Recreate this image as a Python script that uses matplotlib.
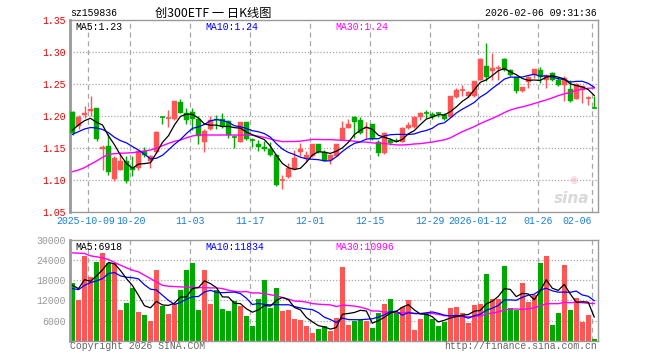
import numpy as np
import pandas as pd
import matplotlib
matplotlib.use("Agg")
import matplotlib.pyplot as plt
from matplotlib.patches import Rectangle

# ---------------- data ----------------
opens = [1.207, 1.184, 1.202, 1.208, 1.2125, 1.148, 1.153, 1.101, 1.116, 1.129,
         1.121, 1.118, 1.146, 1.129, 1.143, 1.1985, 1.196, 1.195, 1.2225, 1.204,
         1.207, 1.195, 1.160, 1.179, 1.196, 1.195, 1.192, 1.1675, 1.160, 1.190,
         1.163, 1.156, 1.152, 1.148, 1.139, 1.099, 1.104, 1.117, 1.144, 1.134,
         1.1375, 1.156, 1.144, 1.131, 1.1375, 1.1625, 1.182, 1.199, 1.194, 1.181,
         1.1875, 1.160, 1.142, 1.1625, 1.1615, 1.160, 1.182, 1.183, 1.199, 1.2045,
         1.203, 1.2055, 1.201, 1.199, 1.229, 1.241, 1.232, 1.231, 1.257, 1.2775,
         1.271, 1.274, 1.2895, 1.2725, 1.2605, 1.2395, 1.253, 1.2645, 1.2725, 1.257,
         1.267, 1.257, 1.249, 1.2425, 1.227, 1.241, 1.2275, 1.2135]
highs = [1.208, 1.201, 1.216, 1.231, 1.213, 1.155, 1.172, 1.137, 1.144, 1.137,
         1.137, 1.147, 1.152, 1.139, 1.176, 1.200, 1.209, 1.223, 1.227, 1.2125,
         1.213, 1.200, 1.180, 1.200, 1.201, 1.204, 1.193, 1.170, 1.191, 1.191,
         1.165, 1.162, 1.161, 1.160, 1.140, 1.108, 1.127, 1.147, 1.158, 1.145,
         1.157, 1.157, 1.147, 1.140, 1.157, 1.192, 1.196, 1.200, 1.199, 1.190,
         1.188, 1.163, 1.175, 1.166, 1.166, 1.183, 1.190, 1.200, 1.206, 1.209,
         1.206, 1.207, 1.204, 1.232, 1.243, 1.249, 1.239, 1.255, 1.291, 1.314,
         1.298, 1.280, 1.291, 1.273, 1.261, 1.2455, 1.263, 1.2735, 1.277, 1.264,
         1.268, 1.261, 1.262, 1.257, 1.252, 1.2475, 1.2315, 1.2315]
lows = [1.170, 1.180, 1.197, 1.200, 1.161, 1.116, 1.108, 1.099, 1.115, 1.096,
        1.107, 1.116, 1.136, 1.118, 1.142, 1.188, 1.183, 1.194, 1.204, 1.188,
        1.178, 1.157, 1.144, 1.178, 1.179, 1.182, 1.166, 1.150, 1.159, 1.162,
        1.152, 1.146, 1.146, 1.137, 1.091, 1.086, 1.103, 1.116, 1.1375, 1.128,
        1.136, 1.142, 1.129, 1.125, 1.137, 1.162, 1.181, 1.166, 1.172, 1.165,
        1.163, 1.1375, 1.141, 1.154, 1.159, 1.159, 1.180, 1.182, 1.193, 1.197,
        1.195, 1.199, 1.194, 1.198, 1.228, 1.231, 1.230, 1.230, 1.256, 1.255,
        1.256, 1.256, 1.271, 1.262, 1.236, 1.238, 1.243, 1.259, 1.252, 1.2435,
        1.255, 1.247, 1.223, 1.222, 1.226, 1.220, 1.2165, 1.2125]
closes = [1.173, 1.199, 1.204, 1.211, 1.164, 1.152, 1.113, 1.135, 1.130, 1.099,
          1.115, 1.145, 1.139, 1.137, 1.175, 1.198, 1.197, 1.223, 1.204, 1.193,
          1.196, 1.168, 1.177, 1.194, 1.194, 1.184, 1.170, 1.167, 1.190, 1.164,
          1.1625, 1.151, 1.148, 1.139, 1.092, 1.0995, 1.118, 1.134, 1.148, 1.139,
          1.156, 1.144, 1.130, 1.139, 1.156, 1.182, 1.1875, 1.190, 1.173, 1.1815,
          1.1635, 1.142, 1.174, 1.158, 1.161, 1.182, 1.186, 1.199, 1.205, 1.204,
          1.198, 1.205, 1.196, 1.231, 1.241, 1.2415, 1.237, 1.254, 1.2895, 1.2605,
          1.275, 1.2745, 1.2715, 1.2635, 1.2385, 1.245, 1.2605, 1.2735, 1.2605, 1.2635,
          1.257, 1.249, 1.259, 1.223, 1.250, 1.2465, 1.228, 1.213]
volumes = [17120, 12040, 25190, 18900, 23400, 26090, 23000, 23000, 9050, 11350,
           15720, 8460, 7560, 5860, 21000, 10340, 7860, 10850, 15030, 21000,
           23100, 9050, 21000, 10850, 15030, 9350, 8750, 11740, 10340, 7350,
           4270, 12340, 18020, 9650, 15720, 8750, 9050, 6360, 6070, 4360,
           2270, 3380, 4360, 2870, 6750, 22000, 4570, 5860, 6070, 5770,
           3770, 8360, 10850, 12340, 8360, 10040, 12040, 3080, 6360, 7860,
           6360, 4270, 5560, 9740, 10040, 8360, 5260, 10550, 10850, 19810,
           12340, 12340, 22200, 9740, 9050, 17120, 11540, 13540, 23190, 25280,
           4660, 8250, 22500, 9050, 12730, 5560, 7560, 390]

# moving-average values at the start of the window (read from the chart,
# they depend on sessions before the first candle)
ma5_head = [1.178, 1.186, 1.1927, 1.1964]
ma10_head = [1.1714, 1.1755, 1.1797, 1.182, 1.1813, 1.179, 1.174, 1.1667, 1.1615]
ma30_head = [1.113, 1.1156, 1.1193, 1.1245, 1.1297, 1.1354, 1.1401, 1.1411, 1.1417, 1.1422,
             1.1427, 1.1438, 1.1453, 1.1469, 1.1495, 1.1536, 1.1573, 1.1604, 1.1625, 1.166,
             1.1688, 1.1703, 1.1703, 1.1703, 1.1703, 1.1703, 1.1703, 1.1703, 1.170]
vma5_head = [16500, 15500, 18200, 17700]
vma10_head = [15530, 15200, 16500, 17300, 17800, 18500, 20000, 20300, 19300]
vma30_head = [26180, 26080, 25980, 25280, 24990, 24690, 24190, 23300, 22500, 21700,
              21000, 20500, 19500, 18500, 17500, 16500, 16230, 16130, 16030, 15930,
              15930, 15830, 15830, 15730, 15730, 15530, 15030, 14730, 14530]

date_idx = [3, 10, 20, 30, 40, 50, 60, 68, 78, 87]
date_labels = ["2025-10-09", "10-20", "11-03", "11-17", "12-01", "12-15",
               "12-29", "2026-01-12", "01-26", "02-06"]
price_ticks = [1.05, 1.10, 1.15, 1.20, 1.25, 1.30, 1.35]
vol_ticks = [6000, 12000, 18000, 24000, 30000]

# ---------------- derived ----------------
def ma(values, n, head):
    s = pd.Series(values, dtype=float).rolling(n).mean()
    s.iloc[:len(head)] = head
    return s.values

ma5 = ma(closes, 5, ma5_head)
ma10 = ma(closes, 10, ma10_head)
ma30 = ma(closes, 30, ma30_head)
vma5 = ma(volumes, 5, vma5_head)
vma10 = ma(volumes, 10, vma10_head)
vma30 = ma(volumes, 30, vma30_head)

RED = "#ff5555"
GREEN = "#00a800"
GRID = "#a8a8a8"
MONO = "Liberation Mono"
FS = 7.1
n = len(closes)
x = np.arange(n)
cols = [RED if c > o else GREEN for o, c in zip(opens, closes)]

W, H = 660, 360
fig = plt.figure(figsize=(6.6, 3.6), dpi=100)
fig.patch.set_facecolor("white")

def fx(px):
    return px / W

def fy(py):
    return 1 - py / H

XL = (-0.42, n - 0.42)
ax = fig.add_axes([fx(70), fy(212), fx(597.7) - fx(70), fy(20) - fy(212)])
axv = fig.add_axes([fx(70), fy(340.7), fx(597.7) - fx(70), fy(240) - fy(340.7)])

for a in (ax, axv):
    a.set_xlim(*XL)
    a.tick_params(length=0)
    for s in a.spines.values():
        s.set_color("#999999")
        s.set_linewidth(1)
    a.spines["left"].set_linewidth(2)
    a.set_xticks([])
    for d in date_idx:
        a.axvline(d - 0.42, color=GRID, lw=0.9, ls=(0, (4, 3)), zorder=0)

# ---- price panel ----
ax.set_ylim(1.05, 1.35)
for t in price_ticks[1:-1]:
    ax.axhline(t, color=GRID, lw=0.9, ls=(0, (1, 1.5)), zorder=0)
ax.set_yticks(price_ticks)
ax.set_yticklabels([f"{t:.2f}" for t in price_ticks], color="#ee0000",
                   fontsize=FS, family=MONO)
ax.tick_params(axis="y", pad=3)
bw = 0.83
for i in range(n):
    o, h, l, c = opens[i], highs[i], lows[i], closes[i]
    col = cols[i]
    ax.vlines(i, l, h, color=col, lw=1, zorder=2)
    lo, hi = min(o, c), max(o, c)
    if hi - lo < 0.0016:
        ax.hlines((o + c) / 2, i - bw / 2, i + bw / 2, color=col, lw=1.2, zorder=3)
    else:
        ax.add_patch(Rectangle((i - bw / 2, lo), bw, hi - lo, facecolor=col,
                               edgecolor=col, lw=0.3, zorder=3))
ax.plot(x, ma30, color="#ff00ff", lw=1, zorder=4)
ax.plot(x, ma10, color="#0000ff", lw=0.9, zorder=4)
ax.plot(x, ma5, color="black", lw=0.9, zorder=5)

# watermark
ax.text(0.985, 0.07, "sina", transform=ax.transAxes, ha="right", va="center",
        fontsize=11, fontweight="bold", style="italic", color="#d9d9d9",
        family="DejaVu Sans", zorder=1)
ax.text(0.955, 0.165, "◉", transform=ax.transAxes, ha="center", va="center",
        fontsize=7, color="#f2cccc", family="DejaVu Sans", zorder=1)

# date labels
for d, lab in zip(date_idx, date_labels):
    px = 70 + 6 * d
    ha = "center"
    if d == n - 1:
        ha = "right"
    if d == 3:
        px -= 2.5
    if d == 10:
        px += 1
    fig.text(fx(px), fy(221.5), lab, ha=ha, va="center", fontsize=FS,
             family=MONO, color="#1a7fd4")

# ---- volume panel ----
axv.set_ylim(0, 30000)
for t in vol_ticks[:-1]:
    axv.axhline(t, color=GRID, lw=0.9, ls=(0, (1, 1.5)), zorder=0)
axv.set_yticks(vol_ticks)
axv.set_yticklabels([str(t) for t in vol_ticks], color="#999999",
                    fontsize=FS, family=MONO)
axv.tick_params(axis="y", pad=3)
axv.bar(x, volumes, width=bw, color=cols, zorder=2, linewidth=0)
axv.plot(x, vma30, color="#ff00ff", lw=1, zorder=4)
axv.plot(x, vma10, color="#0000ff", lw=0.9, zorder=4)
axv.plot(x, vma5, color="black", lw=0.9, zorder=5)

# ---- texts ----
fig.text(fx(70), fy(13), "sz159836", ha="left", va="center", fontsize=FS,
         family=MONO, color="black")
fig.text(fx(213), fy(13), "创300ETF 一 日K线图", ha="center", va="center",
         fontsize=8.8, family=["Noto Sans CJK SC", "DejaVu Sans"], color="black")
fig.text(fx(597), fy(13), "2026-02-06 09:31:36", ha="right", va="center",
         fontsize=FS, family=MONO, color="black")

fig.text(fx(75), fy(26.5), f"MA5:{ma5[-1]:.2f}", ha="left", va="center",
         fontsize=FS, family=MONO, color="black")
fig.text(fx(205), fy(26.5), "MA10:1.24", ha="left", va="center",
         fontsize=FS, family=MONO, color="#0000ff")
fig.text(fx(335), fy(26.5), "MA30:1.24", ha="left", va="center",
         fontsize=FS, family=MONO, color="#ff00ff")

fig.text(fx(75), fy(247), "MA5:6918", ha="left", va="center",
         fontsize=FS, family=MONO, color="black")
fig.text(fx(205), fy(247), "MA10:11834", ha="left", va="center",
         fontsize=FS, family=MONO, color="#0000ff")
fig.text(fx(335), fy(247), "MA30:10996", ha="left", va="center",
         fontsize=FS, family=MONO, color="#ff00ff")

fig.text(fx(70), fy(346), "Copyright 2026 SINA.COM", ha="left", va="center",
         fontsize=FS, family=MONO, color="#666666")
fig.text(fx(597), fy(346), "http://finance.sina.com.cn", ha="right", va="center",
         fontsize=FS, family=MONO, color="#666666")

fig.savefig("out.png", dpi=100, facecolor="white")
